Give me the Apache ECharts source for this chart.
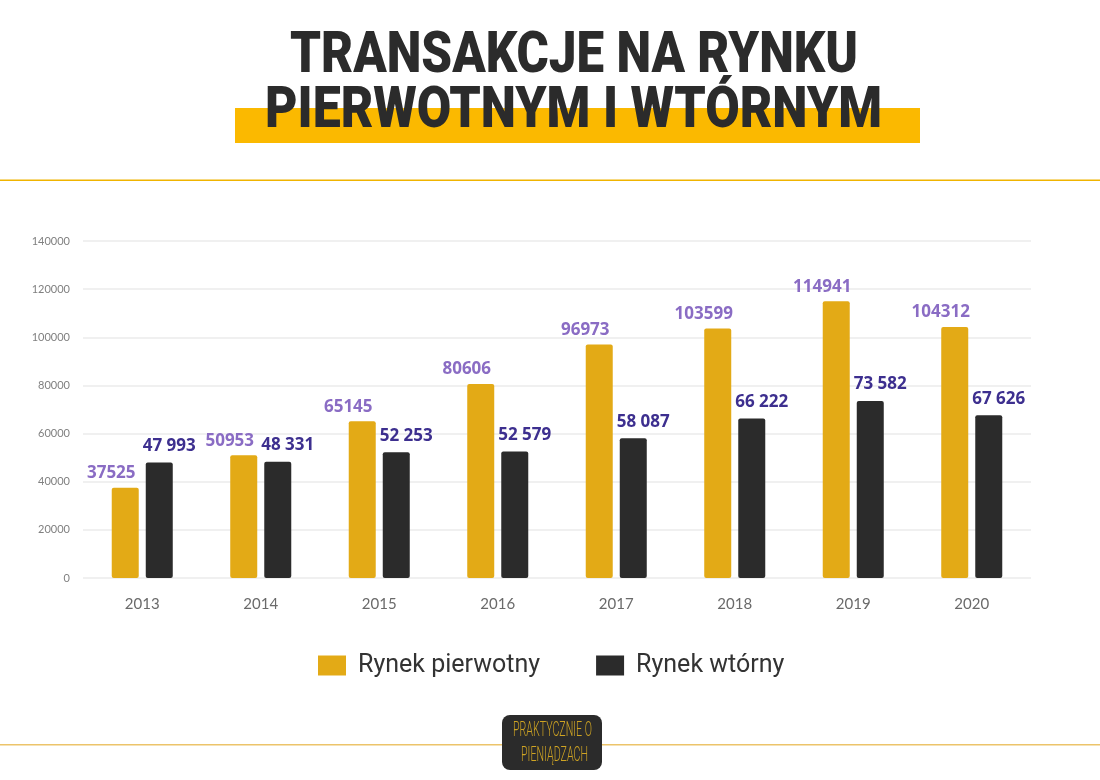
<!DOCTYPE html>
<html>
<head>
<meta charset="utf-8">
<style>
  html, body { margin: 0; padding: 0; background: #fff; }
  #chart { width: 1100px; height: 780px; }
</style>
<script src="https://cdn.jsdelivr.net/npm/echarts@6/dist/echarts.min.js"></script>
</head>
<body>
<div id="chart"></div>
<script>
// Data
var years = ['2013', '2014', '2015', '2016', '2017', '2018', '2019', '2020'];
var primaryMarket = [37525, 50953, 65145, 80606, 96973, 103599, 114941, 104312];
var secondaryMarket = [47993, 48331, 52253, 52579, 58087, 66222, 73582, 67626];
var seriesNames = ['Rynek pierwotny', 'Rynek wtórny'];

var chart = echarts.init(document.getElementById('chart'));

// "47993" -> "47 993"
function spaced(v) {
    return String(v).replace(/\B(?=(\d{3})+(?!\d))/g, ' ');
}

// squeeze a text horizontally so it fills a given width
var measureCtx = document.createElement('canvas').getContext('2d');
function squeeze(text, font, targetWidth) {
    measureCtx.font = font;
    return targetWidth / measureCtx.measureText(text).width;
}

var titleFont = '900 57px Roboto, sans-serif';
var logoFont = '300 21px Roboto, sans-serif';

function titleLine(text, x, y, width) {
    return {
        type: 'text', x: x, y: y, z: 2,
        scaleX: squeeze(text, titleFont, width),
        style: {
            text: text, align: 'center', verticalAlign: 'middle',
            font: titleFont, fill: '#2b2b2b',
            shadowBlur: 7, shadowColor: 'rgba(0,0,0,0.4)', shadowOffsetY: 2
        }
    };
}

function logoLine(text, x, y, width) {
    return {
        type: 'text', x: x, y: y, z: 4,
        scaleX: squeeze(text, logoFont, width),
        style: {
            text: text, align: 'center', verticalAlign: 'middle',
            font: logoFont, fill: '#cfa423'
        }
    };
}

var option = {
    backgroundColor: '#fff',
    animation: false,
    textStyle: { fontFamily: 'Lato, sans-serif' },

    // Header, divider lines and logo
    graphic: [
        { type: 'rect', shape: { x: 235, y: 108, width: 685, height: 35 }, style: { fill: '#fbb900' }, z: 1 },
        { type: 'rect', shape: { x: 0, y: 179.5, width: 1100, height: 1.5 }, style: { fill: '#f0b400' } },
        { type: 'rect', shape: { x: 0, y: 744, width: 1100, height: 1.5 }, style: { fill: '#ecc46a' } },
        titleLine('TRANSAKCJE NA RYNKU', 574, 58, 568),
        titleLine('PIERWOTNYM I WTÓRNYM', 573.5, 113, 617),
        { type: 'rect', shape: { x: 502, y: 715, width: 100, height: 55, r: 8 }, style: { fill: '#2b2b2b' }, z: 3 },
        logoLine('PRAKTYCZNIE O', 552.5, 731, 79),
        logoLine('PIENIĄDZACH', 554.5, 756, 67)
    ],

    legend: {
        data: seriesNames,
        top: 648,
        left: 313,
        itemWidth: 28,
        itemHeight: 20,
        itemGap: 56,
        icon: 'rect',
        textStyle: { fontSize: 25, color: '#333', fontFamily: 'Roboto, sans-serif', padding: [0, 0, 0, 7] }
    },

    grid: {
        left: 83,
        right: 69,
        top: 241,
        bottom: 202,
        containLabel: false
    },

    xAxis: {
        type: 'category',
        data: years,
        axisLine: { show: false },
        axisTick: { show: false },
        axisLabel: { color: '#6a6a6a', fontSize: 15, margin: 19, fontFamily: 'Lato, sans-serif' }
    },

    yAxis: {
        type: 'value',
        min: 0,
        max: 140000,
        interval: 20000,
        axisLine: { show: false },
        axisTick: { show: false },
        axisLabel: {
            color: '#808080', fontSize: 11, margin: 13,
            formatter: function (v) { return String(v); }
        },
        splitLine: { lineStyle: { color: '#ebebeb', width: 1.5 } }
    },

    series: [{
        name: seriesNames[0],
        type: 'bar',
        data: primaryMarket,
        barWidth: 27,
        barGap: '26%',
        itemStyle: { color: '#e3aa16', borderRadius: 2 },
        label: {
            show: true,
            position: 'top',
            offset: [-14, 0],
            distance: 6,
            color: '#8a6cc4',
            fontSize: 17,
            fontWeight: 'bold',
            fontFamily: '"Open Sans", sans-serif'
        }
    }, {
        name: seriesNames[1],
        type: 'bar',
        data: secondaryMarket,
        barWidth: 27,
        itemStyle: { color: '#2b2b2b', borderRadius: 2 },
        label: {
            show: true,
            position: 'top',
            offset: [10, 0],
            distance: 8,
            color: '#3d2f8f',
            fontSize: 17,
            fontWeight: 'bold',
            fontFamily: '"Open Sans", sans-serif',
            formatter: function (p) { return spaced(p.value); }
        }
    }]
};

chart.setOption(option);
</script>
</body>
</html>
